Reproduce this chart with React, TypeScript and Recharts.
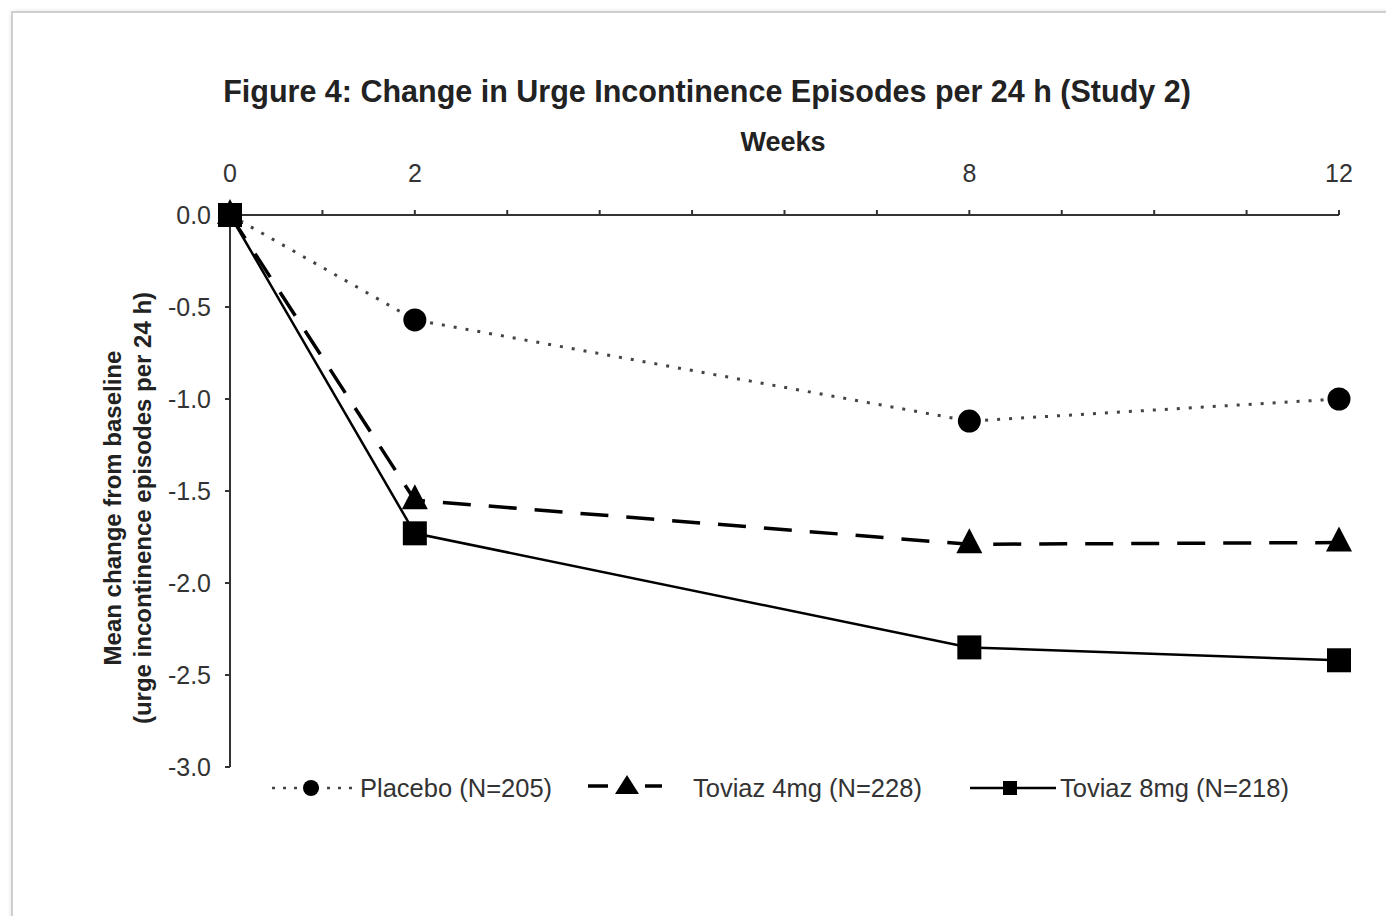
import React from 'react'
import { LineChart, Line, XAxis, YAxis } from 'recharts'

const weeks = [0, 2, 8, 12]
const placebo = [0, -0.57, -1.12, -1.0]
const toviaz4 = [0, -1.55, -1.79, -1.78]
const toviaz8 = [0, -1.73, -2.35, -2.42]
const weekTicks = [0, 1, 2, 3, 4, 5, 6, 7, 8, 9, 10, 11, 12]
const labelledWeeks = [0, 2, 8, 12]
const yTicks = [0, -0.5, -1, -1.5, -2, -2.5, -3]

const data = weeks.map((w, i) => ({ week: w, placebo: placebo[i], t4: toviaz4[i], t8: toviaz8[i] }))

const FONT = '"Liberation Sans", Arial, sans-serif'

const CircleDot = (p: any) => <circle key={p.index} cx={p.cx} cy={p.cy} r={11.5} fill="#000" />
const TriDot = (p: any) => (
  <path key={p.index} d={`M${p.cx},${p.cy - 16} L${p.cx + 13},${p.cy + 9} L${p.cx - 13},${p.cy + 9} Z`} fill="#000" />
)
const SquareDot = (p: any) => <rect key={p.index} x={p.cx - 12} y={p.cy - 12} width={24} height={24} fill="#000" />

function LegendRow() {
  const txt = { fontFamily: FONT, fontSize: 25.5, fill: '#333' }
  return (
    <svg width={1394} height={60} style={{ position: 'absolute', left: 0, top: 758 }}>
      <line x1={272} y1={30} x2={352} y2={30} stroke="#444" strokeWidth={2.5} strokeDasharray="3 8" />
      <circle cx={311} cy={30} r={8} fill="#000" />
      <text x={360} y={39} {...txt}>Placebo (N=205)</text>
      <line x1={588} y1={28} x2={662} y2={28} stroke="#000" strokeWidth={3.5} strokeDasharray="20 37" />
      <path d="M627,17 L639,36 L615,36 Z" fill="#000" />
      <text x={693} y={39} {...txt}>Toviaz 4mg (N=228)</text>
      <line x1={970} y1={30} x2={1056} y2={30} stroke="#000" strokeWidth={2.5} />
      <rect x={1003} y={23} width={14} height={14} fill="#000" />
      <text x={1060} y={39} {...txt}>Toviaz 8mg (N=218)</text>
    </svg>
  )
}

export default function App() {
  return (
    <div style={{ position: 'relative', width: 1394, height: 924, margin: -8, background: '#fff', overflow: 'hidden', fontFamily: FONT }}>
      <div style={{ position: 'absolute', left: 11, top: 11, width: 1400, height: 906, border: '2px solid #cfcfcf', boxShadow: '2px 2px 6px rgba(0,0,0,0.25)', background: '#fff' }} />
      <div style={{ position: 'absolute', left: 0, top: 74, width: 1414, textAlign: 'center', fontSize: 30.5, fontWeight: 'bold', color: '#222', whiteSpace: 'nowrap' }}>
        Figure 4: Change in Urge Incontinence Episodes per 24 h (Study 2)
      </div>
      <div style={{ position: 'absolute', left: 683, top: 127, width: 200, textAlign: 'center', fontSize: 27, fontWeight: 'bold', color: '#222' }}>
        Weeks
      </div>
      <div style={{ position: 'absolute', left: 128 - 250, top: 508 - 30, width: 500, height: 60, transform: 'rotate(-90deg)', textAlign: 'center', fontSize: 24, fontWeight: 'bold', color: '#222', lineHeight: '30px', whiteSpace: 'nowrap' }}>
        Mean change from baseline<br />(urge incontinence episodes per 24 h)
      </div>
      <div style={{ position: 'absolute', left: 0, top: 0 }}>
        <LineChart width={1394} height={924} data={data} margin={{ top: 185, right: 55, bottom: 157, left: 170 }}>
          <XAxis
            dataKey="week"
            type="number"
            orientation="top"
            domain={[0, 12]}
            ticks={weekTicks}
            interval={0}
            height={30}
            tickSize={5}
            tickMargin={28}
            tickFormatter={(v: number) => (labelledWeeks.includes(v) ? String(v) : '')}
            tick={{ fontSize: 25, fill: '#333', fontFamily: FONT }}
            axisLine={{ stroke: '#333', strokeWidth: 2 }}
            tickLine={{ stroke: '#333', strokeWidth: 2 }}
          />
          <YAxis
            type="number"
            domain={[-3, 0]}
            ticks={yTicks}
            interval={0}
            width={60}
            tickSize={5}
            tickMargin={14}
            tickFormatter={(v: number) => v.toFixed(1)}
            tick={{ fontSize: 25, fill: '#333', fontFamily: FONT }}
            axisLine={{ stroke: '#333', strokeWidth: 2 }}
            tickLine={{ stroke: '#333', strokeWidth: 2 }}
          />
          <Line dataKey="placebo" stroke="#444" strokeWidth={3} strokeDasharray="3 9" dot={CircleDot} isAnimationActive={false} />
          <Line dataKey="t4" stroke="#000" strokeWidth={3.5} strokeDasharray="28 18" dot={TriDot} isAnimationActive={false} />
          <Line dataKey="t8" stroke="#000" strokeWidth={2.5} dot={SquareDot} isAnimationActive={false} />
        </LineChart>
      </div>
      <LegendRow />
    </div>
  )
}
